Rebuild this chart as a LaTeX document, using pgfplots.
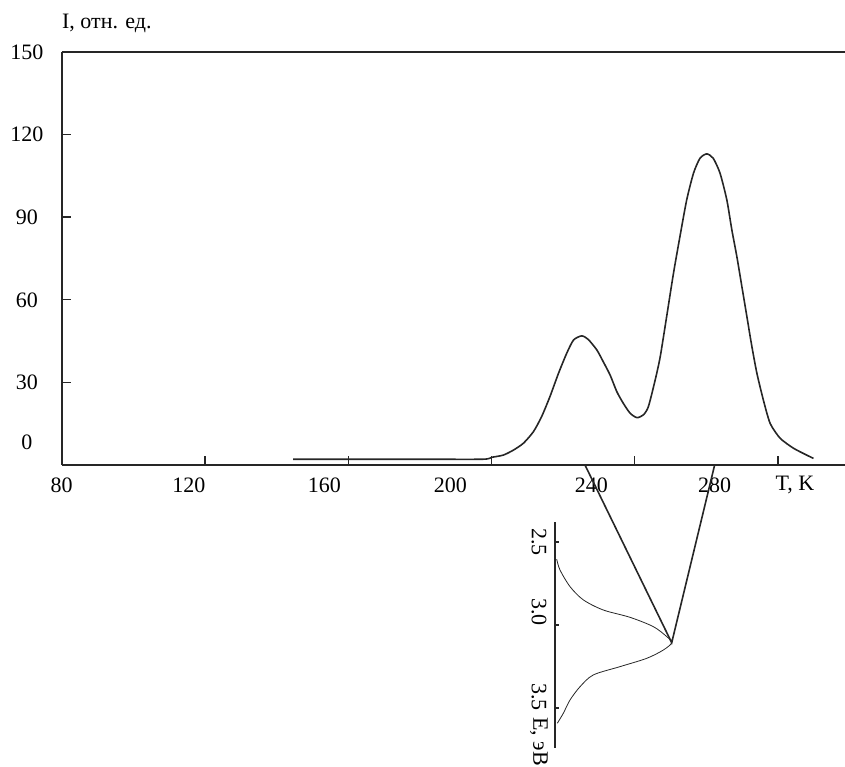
\documentclass[border=0pt]{standalone}
\usepackage{fontspec}
\setmainfont{Liberation Serif}
\usepackage{pgfplots}
\pgfplotsset{compat=1.18}
\pgfplotstableread{
T I
144.6 2.1
160 2.1
180 2.1
197.6 2.1
200.1 2.8
203.3 3.6
206.1 5.4
208.9 7.9
211.7 12.1
214.0 17.6
216.3 24.8
218.7 33.3
221.0 40.6
222.9 45.4
225.2 46.9
227.0 45.6
229.4 41.8
231.2 37.5
233.1 32.7
235.0 26.6
236.8 22.4
238.7 18.8
240.6 17.2
242.4 18.2
243.8 21.2
245.7 30.9
247.1 39.3
248.9 53.9
250.8 69.6
252.6 82.9
254.5 96.3
256.4 106.0
258.2 111.4
260.1 113.0
261.9 111.4
263.8 106.0
265.7 96.3
267.1 85.4
268.5 75.7
269.9 64.8
271.3 53.9
272.7 43.0
274.1 33.3
275.9 23.6
277.8 15.1
280.6 9.7
284.3 6.1
288.0 3.6
289.9 2.4
}\maintable
\pgfplotstableread{
I E
1.7 2.604
5.0 2.669
15.0 2.769
28.3 2.849
48.3 2.910
75.0 2.954
98.3 3.010
111.7 3.070
116.7 3.107
108.3 3.151
91.7 3.201
65.0 3.251
38.3 3.301
25.0 3.372
15.0 3.452
8.3 3.532
2.3 3.592
}\insettable
\begin{document}
\begin{tikzpicture}
\useasboundingbox (0,0) rectangle (422.5pt,383pt);
\begin{axis}[
  at={(30.875pt,150.5pt)}, anchor=south west,
  scale only axis, width=391.625pt, height=206.5pt,
  xmin=80, xmax=298.7, ymin=0, ymax=150,
  axis x line*=bottom, axis y line*=left,
  axis line style={-, line width=0.9pt, black!85},
  tick align=inside, major tick length=4.5pt,
  tick style={line width=0.7pt, black!85},
  xtick={120,160,200,240,280},
  xticklabels={,,,,},
  extra x ticks={80,115.5,153.3,188.5,227.9,262.3},
  extra x tick labels={80,120,160,200,240,280},
  extra x tick style={major tick length=0pt},
  xticklabel style={anchor=center, yshift=-10pt, font=\fontsize{11}{13}\selectfont},
  ytick={30,60,90,120},
  yticklabels={30,60,90,120},
  extra y ticks={8.35,150},
  extra y tick labels={0,150},
  extra y tick style={major tick length=0pt},
  yticklabel style={anchor=center, xshift=-17.4pt, font=\fontsize{11}{13}\selectfont},
  clip=false,
]
\addplot[line width=0.8pt, black!85, smooth, tension=0.4] table[x=T, y=I] {\maintable};
\draw[line width=0.9pt, black!85] (rel axis cs:0,1) -- (rel axis cs:1,1);
\node[anchor=west, inner xsep=0pt, font=\fontsize{11}{13}\selectfont] at ([yshift=14.5pt]rel axis cs:0,1) {I, отн. ед.};
\node[anchor=center, font=\fontsize{11}{13}\selectfont] at ([yshift=-10pt]axis cs:284.7,0) {T, K};
\coordinate (a1) at (axis cs:226.1,0);
\coordinate (a2) at (axis cs:262.3,0);
\end{axis}
\begin{axis}[
  at={(277.5pt,9pt)}, anchor=south west,
  scale only axis, width=60pt, height=113pt,
  xmin=0, xmax=120, ymin=2.38, ymax=3.741, y dir=reverse,
  axis x line=none, axis y line*=left,
  axis line style={-, line width=0.8pt, black!85},
  tick align=inside, major tick length=1.8pt,
  tick style={line width=0.6pt, black!85},
  ytick={2.5,3.0,3.5},
  yticklabels={,,},
  extra y ticks={2.5,2.922,3.434},
  extra y tick labels={2.5,3.0,3.5},
  extra y tick style={major tick length=0pt},
  yticklabel style={anchor=center, rotate=-90, yshift=-8pt, font=\fontsize{11}{13}\selectfont},
  clip=false,
]
\addplot[line width=0.4pt, black!85, smooth] table[x=I, y=E] {\insettable};
\coordinate (pk) at (axis cs:116.7,3.107);
\node[anchor=west, inner xsep=0pt, rotate=-90, font=\fontsize{11}{13}\selectfont] at ([xshift=-8pt]axis cs:0,3.554) {E, эВ};
\end{axis}
\draw[line width=0.8pt, black!85] (a1) -- (pk) -- (a2);
\end{tikzpicture}
\end{document}
